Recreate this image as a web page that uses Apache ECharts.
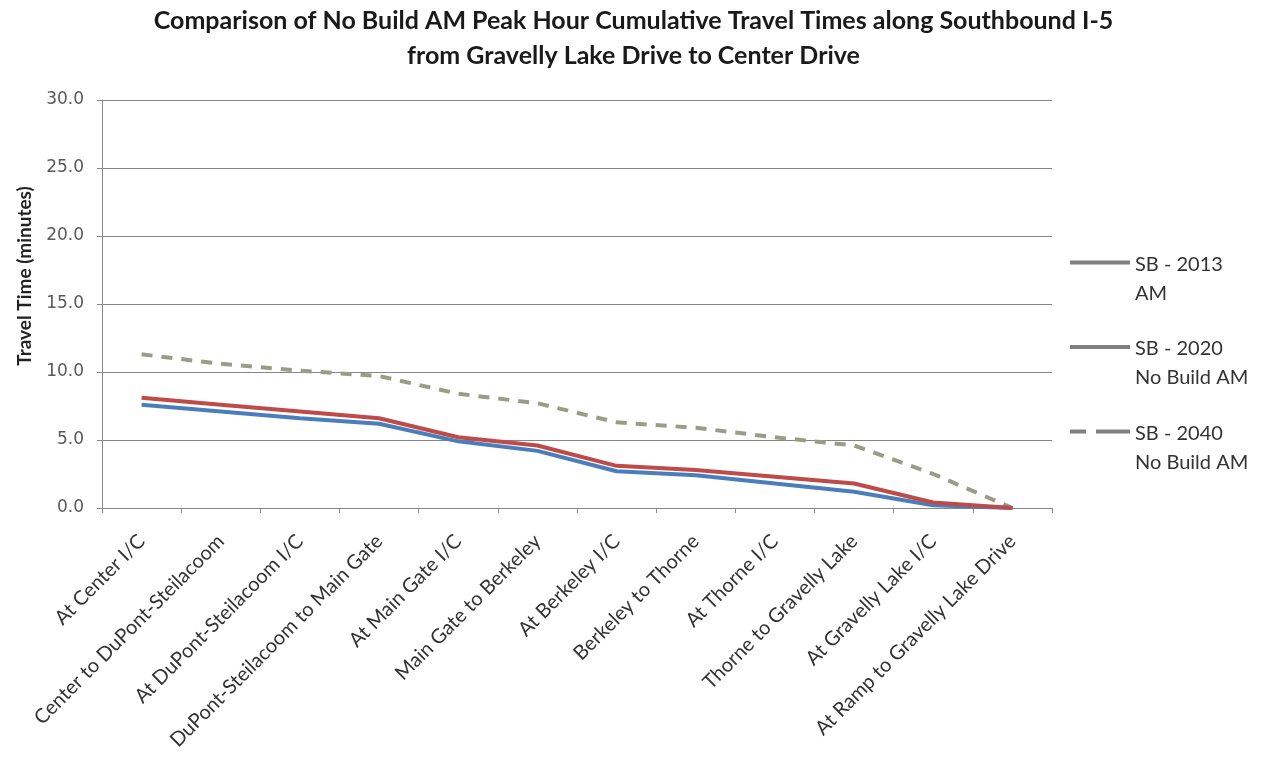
<!DOCTYPE html>
<html>
<head>
<meta charset="utf-8">
<script src="https://cdn.jsdelivr.net/npm/echarts@6/dist/echarts.min.js"></script>
<style>html,body{margin:0;padding:0;background:#fff;}#c{width:1267px;height:761px;}</style>
</head>
<body>
<div id="c"></div>
<script>
const categories = ["At Center I/C","Center to DuPont-Steilacoom","At DuPont-Steilacoom I/C","DuPont-Steilacoom to Main Gate","At Main Gate I/C","Main Gate to Berkeley","At Berkeley I/C","Berkeley to Thorne","At Thorne I/C","Thorne to Gravelly Lake","At Gravelly Lake I/C","At Ramp to Gravelly Lake Drive"];
const sb2013 = [7.6, 7.1, 6.6, 6.2, 4.9, 4.2, 2.7, 2.4, 1.8, 1.2, 0.2, 0.0];
const sb2020 = [8.1, 7.6, 7.1, 6.6, 5.2, 4.6, 3.1, 2.8, 2.3, 1.8, 0.4, 0.0];
const sb2040 = [11.3, 10.6, 10.1, 9.7, 8.4, 7.7, 6.3, 5.9, 5.2, 4.6, 2.5, 0.0];
const seriesNames = ["SB - 2013 AM", "SB - 2020 No Build AM", "SB - 2040 No Build AM"];
const legendLabels = {"SB - 2013 AM": "SB - 2013\nAM", "SB - 2020 No Build AM": "SB - 2020\nNo Build AM", "SB - 2040 No Build AM": "SB - 2040\nNo Build AM"};
const yTicks = [0, 5, 10, 15, 20, 25, 30];

// legend icons: a 4px bar drawn at the top of a taller icon box so it lines up with the first text line
const solidIcon = 'path://M0,0H60V4H0Z M0,37H0.05V37.05H0Z';
const dashIcon = 'path://M0,0H16V4H0Z M26,0H60V4H26Z M0,37H0.05V37.05H0Z';
const legendIcons = [solidIcon, solidIcon, dashIcon];

const chart = echarts.init(document.getElementById('c'));
chart.setOption({
  backgroundColor: '#ffffff',
  animation: false,
  title: {
    text: 'Comparison of No Build AM Peak Hour Cumulative Travel Times along Southbound I-5\nfrom Gravelly Lake Drive to Center Drive',
    left: 'center', top: 3, padding: 0,
    textStyle: {fontFamily: 'Lato', fontWeight: 'bold', fontSize: 25, lineHeight: 35, color: '#1a1a1a'}
  },
  legend: {
    orient: 'vertical', left: 1070, top: 250, padding: 0,
    itemWidth: 60, itemHeight: 37, itemGap: 26.5, symbolKeepAspect: false,
    formatter: n => legendLabels[n],
    textStyle: {fontFamily: 'Lato', fontSize: 20, lineHeight: 29, color: '#333'},
    data: seriesNames.map((n, i) => ({name: n, icon: legendIcons[i], itemStyle: {color: '#7f7f7f', borderWidth: 0}}))
  },
  grid: {left: 102, right: 215, top: 100, bottom: 253},
  xAxis: {
    type: 'category', data: categories, boundaryGap: true,
    axisLine: {lineStyle: {color: '#888', width: 1}},
    axisTick: {show: true, length: 5, inside: false, lineStyle: {color: '#888'}},
    axisLabel: {rotate: 45, interval: 0, fontFamily: 'Lato', fontSize: 20, color: '#333', margin: 30}
  },
  yAxis: {
    type: 'value', min: yTicks[0], max: yTicks[yTicks.length - 1], interval: 5,
    name: 'Travel Time (minutes)', nameLocation: 'middle', nameGap: 68,
    nameTextStyle: {fontFamily: 'Lato', fontWeight: 'bold', fontSize: 19, color: '#222', padding: [0, 0, 0, 56]},
    axisLine: {show: true, lineStyle: {color: '#888'}},
    axisTick: {show: true, length: 5, lineStyle: {color: '#888'}},
    splitLine: {lineStyle: {color: '#868686', width: 1}},
    axisLabel: {formatter: v => v.toFixed(1), fontFamily: 'DejaVu Sans', fontSize: 17, color: '#595959', margin: 18}
  },
  series: [
    {name: seriesNames[0], type: 'line', data: sb2013, showSymbol: false, symbol: 'none', z: 3,
     lineStyle: {color: '#4A7EBB', width: 4}, itemStyle: {color: '#4A7EBB'}},
    {name: seriesNames[1], type: 'line', data: sb2020, showSymbol: false, symbol: 'none', z: 4,
     lineStyle: {color: '#BE4B48', width: 4}, itemStyle: {color: '#BE4B48'}},
    {name: seriesNames[2], type: 'line', data: sb2040, showSymbol: false, symbol: 'none', z: 2,
     lineStyle: {color: '#9a9c88', width: 4, type: [11, 9]}, itemStyle: {color: '#9a9c88'}}
  ]
});
</script>
</body>
</html>
